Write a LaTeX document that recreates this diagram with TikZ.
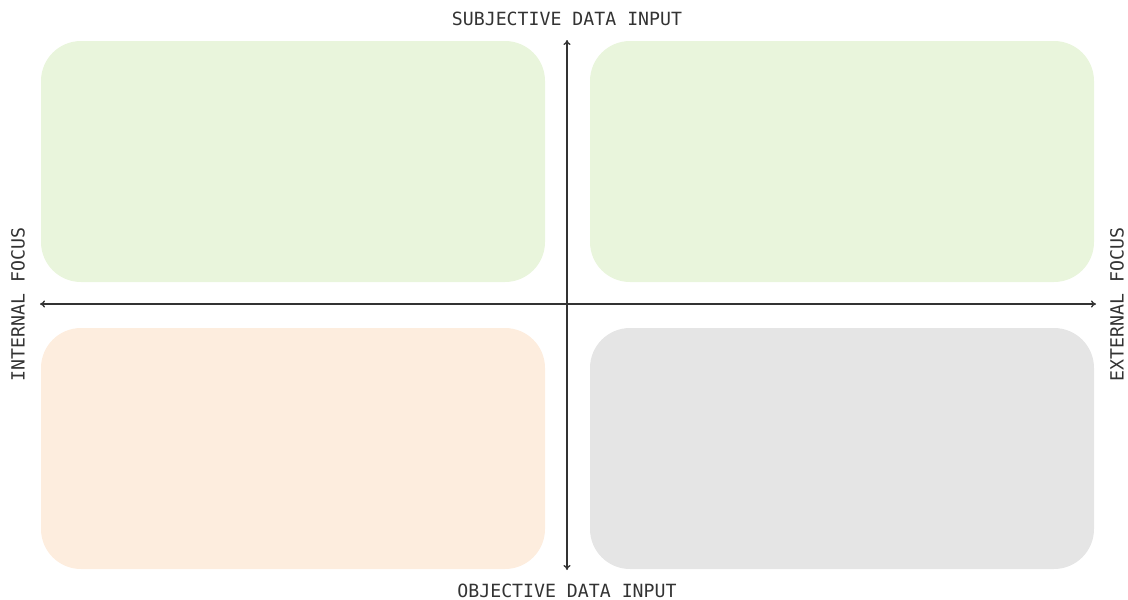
\documentclass[tikz,border=0pt]{standalone}
\usepackage{fontspec}
\setmonofont{DejaVu Sans Mono}
\usetikzlibrary{arrows.meta}
\definecolor{qgreen}{HTML}{E9F5DC}
\definecolor{qorange}{HTML}{FDEDDE}
\definecolor{qgray}{HTML}{E5E5E5}
\definecolor{ink}{HTML}{333333}
\tikzset{
  quad/.style={rounded corners=40pt, minimum width=504pt, minimum height=241pt, inner sep=0pt, draw=none},
  axislabel/.style={font=\ttfamily\fontsize{18.2}{20}\selectfont, text=ink, inner sep=0pt},
  axisline/.style={draw=ink, line width=1.3pt, {To[length=5pt,width=7pt]}-{To[length=5pt,width=7pt]}}
}
\begin{document}
\begin{tikzpicture}[x=1pt,y=-1pt]
\useasboundingbox (0,0) rectangle (1128,600);
\node[quad, fill=qgreen] (tl) at (293,161.5) {};
\node[quad, fill=qgreen] (tr) at (842,161.5) {};
\node[quad, fill=qorange] (bl) at (293,448.5) {};
\node[quad, fill=qgray] (br) at (842,448.5) {};
\coordinate (top) at (567,40);
\coordinate (bot) at (567,570);
\coordinate (left) at (40,304);
\coordinate (right) at (1096,304);
\draw[axisline] (top) -- (bot);
\draw[axisline] (left) -- (right);
\node[axislabel] (subj) at (567,19) {SUBJECTIVE DATA INPUT};
\node[axislabel] (obj) at (567,590.5) {OBJECTIVE DATA INPUT};
\node[axislabel, rotate=90] (intf) at (18,304.5) {INTERNAL FOCUS};
\node[axislabel, rotate=90] (extf) at (1117,304.5) {EXTERNAL FOCUS};
\end{tikzpicture}
\end{document}
